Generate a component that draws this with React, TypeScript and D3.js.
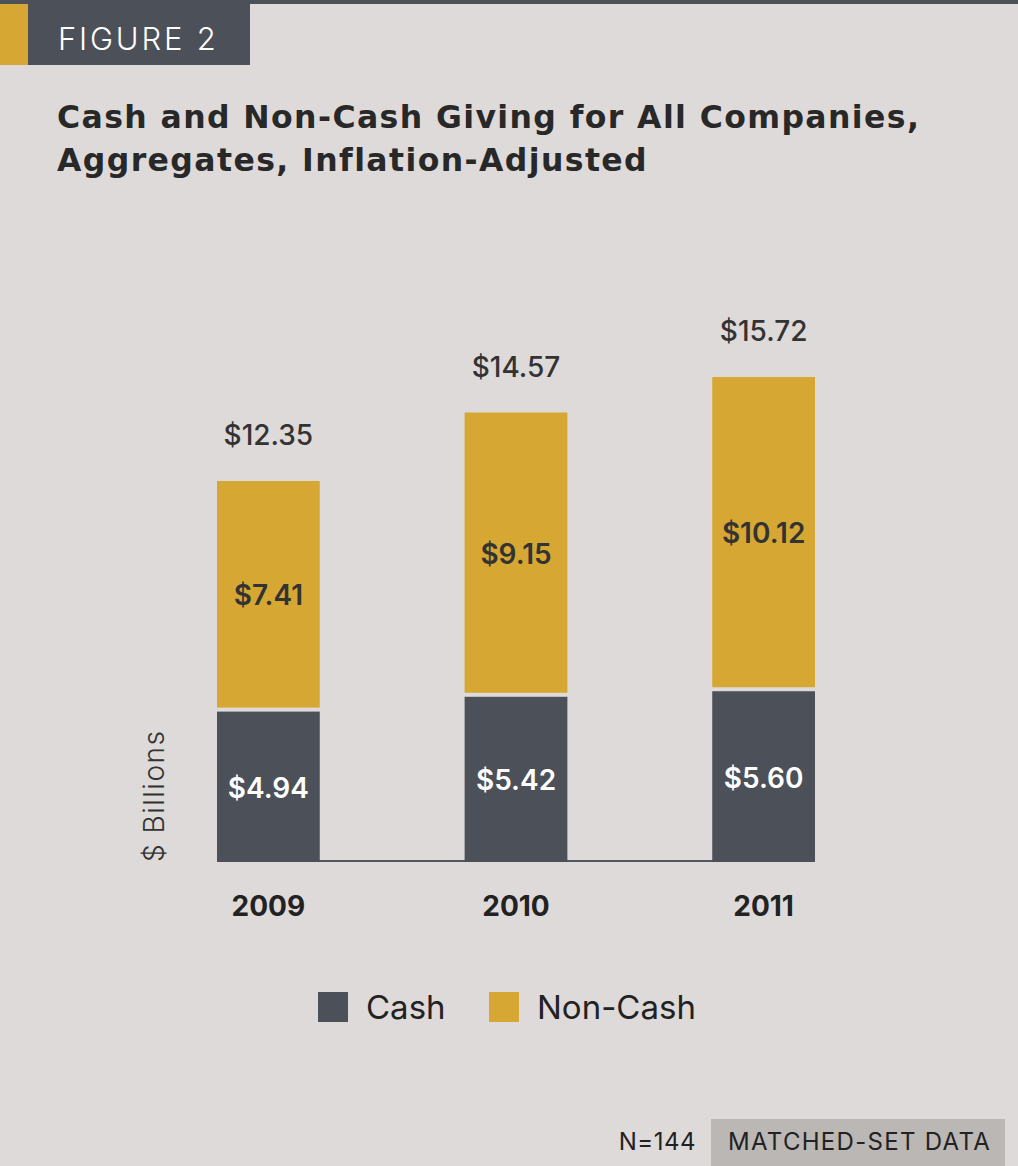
import React from 'react';
import * as d3 from 'd3';

const years = ['2009', '2010', '2011'];
const cash = [4.94, 5.42, 5.6];
const nonCash = [7.41, 9.15, 10.12];
const totals = [12.35, 14.57, 15.72];

const W = 1018;
const H = 1166;
const BG = '#dedad9';
const DARK = '#4c5059';
const GOLD = '#d6a833';
const TEXT = '#333333';
const FONT = 'Inter, "Open Sans", sans-serif';

const App: React.FC = () => {
  const x = d3.scaleBand<string>()
    .domain(years)
    .range([217, 815])
    .paddingInner(0.585)
    .paddingOuter(0);

  const y = d3.scaleLinear()
    .domain([0, 16])
    .range([862, 862 - 16 * 30.85]);

  const gap = 2;

  return (
    <div style={{ position: 'absolute', left: 0, top: 0 }}>
      <svg width={W} height={H} style={{ display: 'block', fontFamily: FONT }}>
        <rect x={0} y={0} width={W} height={H} fill={BG} />

        {/* header */}
        <rect x={0} y={0} width={W} height={4} fill={DARK} />
        <rect x={0} y={4} width={28} height={61} fill={GOLD} />
        <rect x={28} y={0} width={222} height={65} fill={DARK} />
        <text x={58} y={50} fill="#ffffff" fontSize={31} fontWeight={300} letterSpacing={2.8}>
          FIGURE 2
        </text>

        {/* title */}
        <g fontFamily='"DejaVu Sans", sans-serif' fontSize={31.5} fontWeight={700} fill="#282828"
          letterSpacing={1.4}>
          <text x={57} y={128}>Cash and Non-Cash Giving for All Companies,</text>
          <text x={57} y={171}>Aggregates, Inflation-Adjusted</text>
        </g>

        {/* baseline */}
        <line x1={217} x2={815} y1={861} y2={861} stroke="#55585e" strokeWidth={2} />

        {years.map((yr, i) => {
          const bx = x(yr) as number;
          const bw = x.bandwidth();
          const cx = bx + bw / 2;
          const cashTop = y(cash[i]);
          const totTop = y(cash[i] + nonCash[i]);
          return (
            <g key={yr}>
              <rect x={bx} y={cashTop + gap} width={bw} height={y(0) - cashTop - gap} fill={DARK} />
              <rect x={bx} y={totTop} width={bw} height={cashTop - gap - totTop} fill={GOLD} />
              <text x={cx} y={(cashTop + gap + y(0)) / 2 + 11} textAnchor="middle"
                fill="#ffffff" fontSize={28} fontWeight={600}>
                ${cash[i].toFixed(2)}
              </text>
              <text x={cx} y={(totTop + cashTop - gap) / 2 + 11} textAnchor="middle"
                fill={TEXT} fontSize={28} fontWeight={600}>
                ${nonCash[i].toFixed(2)}
              </text>
              <text x={cx} y={totTop - 36} textAnchor="middle"
                fill={TEXT} fontSize={28} fontWeight={500}>
                ${totals[i].toFixed(2)}
              </text>
              <text x={cx} y={916} textAnchor="middle"
                fill="#222" fontSize={28} fontWeight={700}>
                {yr}
              </text>
            </g>
          );
        })}

        {/* y axis label */}
        <text transform="translate(164,862) rotate(-90)" fill={TEXT} fontSize={28} fontWeight={300}
          letterSpacing={1.5}>
          $ Billions
        </text>

        {/* legend */}
        <rect x={318} y={992} width={30} height={30} fill={DARK} />
        <text x={366} y={1019} fill="#222" fontSize={33} fontWeight={400}>Cash</text>
        <rect x={489} y={992} width={30} height={30} fill={GOLD} />
        <text x={537} y={1019} fill="#222" fontSize={33} fontWeight={400}>Non-Cash</text>

        {/* footer */}
        <text x={696} y={1150} textAnchor="end" fill="#222" fontSize={24} fontWeight={400}
          letterSpacing={0.5}>N=144</text>
        <rect x={711} y={1119} width={294} height={47} fill="#bab7b5" />
        <text x={728} y={1150} fill="#222" fontSize={24} fontWeight={400}
          letterSpacing={1.3}>
          MATCHED-SET DATA
        </text>
      </svg>
    </div>
  );
};

export default App;
